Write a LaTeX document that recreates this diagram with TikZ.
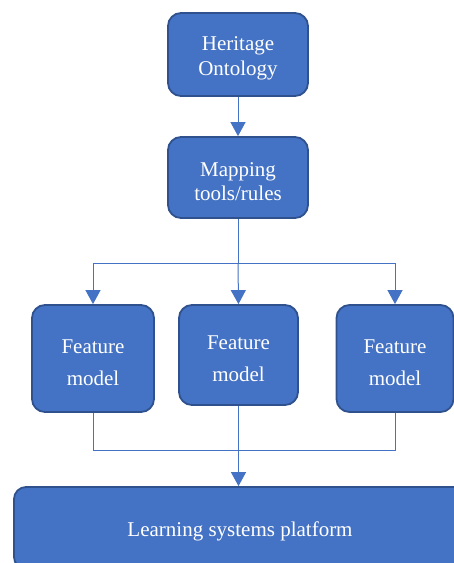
\documentclass[tikz,border=0pt]{standalone}
\usepackage{fontspec}
\setmainfont{Liberation Serif}
\newfontfamily\serif{Liberation Serif}
\usetikzlibrary{arrows.meta}
\definecolor{boxfill}{HTML}{4472C4}
\definecolor{boxline}{HTML}{2F528F}
\definecolor{conn}{HTML}{4472C4}
\tikzset{
  box/.style={draw=boxline, line width=1.8pt, fill=boxfill, rounded corners=13pt, inner sep=0pt},
  lbl/.style={text=white, align=center, inner sep=0pt},
  txt21/.style={font=\serif\fontsize{21}{24.5}\selectfont},
  txtfm/.style={font=\serif\fontsize{21}{32}\selectfont},
  link/.style={draw=conn, line width=1pt},
  arr/.style={link, -{Triangle[width=15pt,length=14pt]}}
}
\begin{document}
\begin{tikzpicture}[x=1pt,y=-1pt]
\useasboundingbox (0,0) rectangle (454,563);
\clip (0,0) rectangle (454,563);
\node[box, minimum width=140pt, minimum height=83pt] (her) at (238,54.5) {};
\node[box, minimum width=140pt, minimum height=81pt] (map) at (238,177.5) {};
\node[box, minimum width=122pt, minimum height=107pt] (f1) at (93,358.5) {};
\node[box, minimum width=119pt, minimum height=100pt] (f2) at (238.5,355) {};
\node[box, minimum width=117pt, minimum height=107pt] (f3) at (395,358.5) {};
\node[box, rounded corners=12pt, minimum width=452pt, minimum height=82pt] (lsp) at (240,528) {};
\node[lbl, txt21] (herT) at ([yshift=-4pt]her.center) {Heritage\\Ontology};
\node[lbl, txt21] (mapT) at ([yshift=-4pt]map.center) {Mapping\\tools/rules};
\node[lbl, txtfm] (f1T) at ([yshift=-4pt]f1.center) {Feature\\model};
\node[lbl, txtfm] (f2T) at ([yshift=-4pt]f2.center) {Feature\\model};
\node[lbl, txtfm] (f3T) at ([yshift=-4pt]f3.center) {Feature\\model};
\node[lbl, txt21] (lspT) at ([yshift=-3pt]lsp.center) {Learning systems platform};
\coordinate (j1) at (238,263);
\coordinate (j2) at (239,450);
\draw[arr] (her) -- (map);
\draw[link] (map.south) -- (j1);
\draw[arr] (j1) -| (f1.north);
\draw[arr] (j1) -| (f3.north);
\draw[arr] (j1) -- (f2.north);
\draw[link] (f1.south) |- (j2);
\draw[link] (f3.south) |- (j2);
\draw[arr] (f2.south) -- (f2.south |- lsp.north);
\end{tikzpicture}
\end{document}
